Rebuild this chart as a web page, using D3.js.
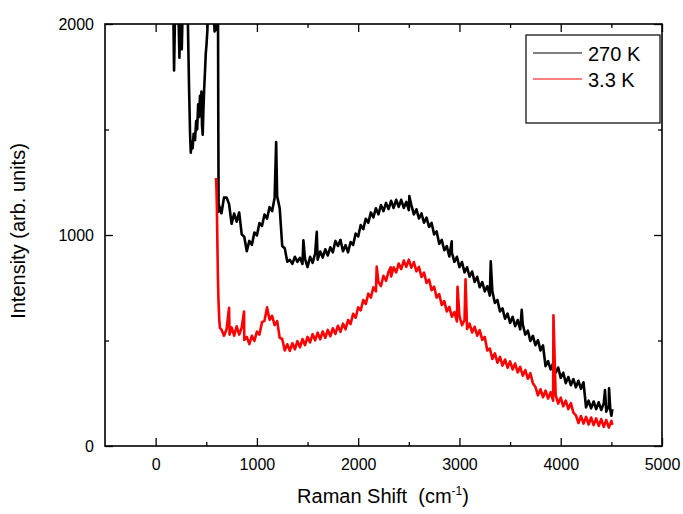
<!DOCTYPE html>
<html>
<head>
<meta charset="utf-8">
<script src="https://cdn.jsdelivr.net/npm/d3@7"></script>
<style>
  body { margin: 0; background: #fff; }
  text { font-family: Arial, "Liberation Sans", sans-serif; fill: #000; }
</style>
</head>
<body>
<svg id="chart" width="683" height="514"></svg>
<script>
// legend / series
const seriesNames = ["270 K", "3.3 K"];
const seriesColors = ["#000000", "#ff0000"];

// tick values
const xTicks = [0, 1000, 2000, 3000, 4000, 5000];
const xMinor = [500, 1500, 2500, 3500, 4500];
const yTicks = [0, 1000, 2000];
const yMinor = [500, 1500];

// [Raman shift (cm-1), intensity],
// alternating between the upper and lower edge of the noisy trace
const spectrum270 = [
  [150,2200],[172,2150],[182,1780],[195,2150],[210,2100],[222,2120],[235,1840],[245,2150],[258,1880],[271,2150],
  [300,2200],[313,2150],[330,1700],[340,1480],[347,1390],[355,1440],[365,1410],[375,1480],[389,1450],[400,1540],
  [410,1500],[420,1620],[430,1560],[438,1660],[445,1600],[452,1680],[458,1520],[465,1475],[472,1600],[480,1700],
  [488,1780],[495,1860],[502,1900],[511,1970],[525,2200],[560,2200],[582,1965],[588,2200],[592,1970],[600,2200],
  [615,2200],[619,1500],[622,1110],
  [625,1142],[650,1103],[675,1177],[700,1178],[725,1147],[750,1053],[775,1102],[800,1063],[825,1107],[850,1003],
  [875,992],[900,923],[925,972],[950,953],[975,1012],[1000,998],[1025,1057],[1050,1043],[1075,1097],[1100,1078],
  [1125,1132],[1150,1113],[1175,1177],[1190,1440],[1200,1183],[1225,1127],[1250,948],[1275,937],[1300,873],[1325,882],
  [1350,863],[1375,897],[1400,873],[1425,892],[1450,863],[1459,975],[1475,887],[1500,848],[1525,897],[1550,868],
  [1575,912],[1591,1015],[1600,883],[1625,922],[1650,893],[1675,932],[1700,903],[1725,942],[1750,918],[1775,972],
  [1800,948],[1825,977],[1850,923],[1875,952],[1900,918],[1925,967],[1950,953],[1975,1007],[2000,993],[2025,1047],
  [2050,1028],[2075,1077],[2100,1058],[2125,1107],[2150,1083],[2175,1127],[2200,1098],[2225,1142],[2250,1113],[2275,1152],
  [2300,1123],[2325,1162],[2350,1128],[2375,1167],[2400,1133],[2425,1167],[2450,1128],[2475,1157],[2500,1118],[2505,1185],
  [2525,1142],[2550,1098],[2575,1122],[2600,1078],[2625,1102],[2650,1058],[2675,1082],[2700,1038],[2725,1057],[2750,1003],
  [2775,1017],[2800,958],[2825,977],[2850,928],[2875,947],[2900,898],[2924,970],[2925,917],[2950,873],[2975,897],
  [3000,848],[3025,872],[3050,823],[3075,847],[3100,803],[3125,827],[3150,778],[3175,802],[3200,753],[3225,777],
  [3250,733],[3275,757],[3300,713],[3309,875],[3325,732],[3350,678],[3375,692],[3400,638],[3425,652],[3450,603],
  [3475,627],[3500,583],[3525,612],[3550,568],[3575,597],[3600,553],[3615,645],[3625,577],[3650,528],[3675,547],
  [3700,498],[3725,522],[3750,478],[3775,502],[3800,453],[3825,477],[3850,378],[3875,402],[3900,363],[3925,392],
  [3950,348],[3975,372],[4000,323],[4025,347],[4050,298],[4075,327],[4100,288],[4125,317],[4150,278],[4175,309],
  [4200,271],[4225,302],[4250,183],[4275,215],[4300,179],[4325,211],[4350,175],[4375,207],[4400,171],[4425,202],
  [4437,265],[4450,163],[4475,192],[4477,273],[4490,170],[4500,143],[4510,175]
];

const spectrum33 = [
  [596,1270],[600,1230],[605,1130],[610,950],[615,800],[620,700],[628,600],[635,560],
  [650,552],[675,523],[700,552],[725,655],[730,528],[750,562],[775,523],[800,567],[825,528],[850,562],
  [873,637],[875,503],[900,517],[925,483],[950,522],[975,498],[1000,542],[1025,528],[1050,587],[1075,593],
  [1100,657],[1125,598],[1150,617],[1175,573],[1200,592],[1225,513],[1250,507],[1275,453],[1300,482],[1325,451],
  [1350,487],[1375,458],[1400,497],[1425,468],[1450,507],[1475,478],[1500,517],[1525,491],[1550,530],[1575,501],
  [1600,537],[1625,506],[1650,543],[1675,513],[1700,550],[1725,520],[1750,558],[1775,531],[1800,570],[1825,541],
  [1850,580],[1875,553],[1900,597],[1925,578],[1950,627],[1975,608],[2000,657],[2025,643],[2050,692],[2075,673],
  [2100,722],[2125,703],[2150,752],[2175,733],[2183,850],[2200,777],[2225,758],[2250,807],[2275,783],[2300,827],
  [2321,847],[2325,803],[2350,847],[2375,823],[2400,865],[2425,838],[2450,879],[2475,849],[2500,883],[2525,845],
  [2550,872],[2575,828],[2600,849],[2625,801],[2650,822],[2675,773],[2700,789],[2725,738],[2750,755],[2775,703],
  [2800,720],[2825,668],[2850,687],[2875,638],[2900,659],[2925,613],[2950,635],[2975,590],[2981,755],[3000,615],
  [3025,573],[3050,597],[3060,790],[3075,555],[3100,580],[3125,538],[3150,565],[3175,523],[3200,549],[3225,503],
  [3250,517],[3275,453],[3300,462],[3325,413],[3350,439],[3375,395],[3400,422],[3425,381],[3450,410],[3475,371],
  [3500,401],[3525,363],[3550,391],[3575,349],[3600,375],[3625,333],[3650,360],[3675,319],[3700,345],[3725,298],
  [3750,280],[3775,240],[3800,269],[3825,231],[3850,262],[3875,225],[3900,255],[3925,215],[3928,620],[3950,242],
  [3975,201],[4000,229],[4025,188],[4050,215],[4075,175],[4100,203],[4125,158],[4150,145],[4175,109],[4200,142],
  [4225,106],[4250,138],[4275,102],[4300,135],[4325,99],[4350,131],[4375,95],[4400,127],[4425,91],[4450,123],
  [4475,87],[4500,119],[4510,100]
];

const plotLeft = 105, plotRight = 662, plotTop = 24, plotBottom = 446;

const svg = d3.select('#chart');

const x = d3.scaleLinear().domain([-500, 5000]).range([plotLeft, plotRight]);
const y = d3.scaleLinear().domain([0, 2000]).range([plotBottom, plotTop]);

// clip to plot area
svg.append('clipPath').attr('id', 'plot')
  .append('rect')
  .attr('x', plotLeft).attr('y', plotTop)
  .attr('width', plotRight - plotLeft).attr('height', plotBottom - plotTop);

// lines
const line = d3.line()
  .x(d => x(d[0]))
  .y(d => y(d[1]));

[spectrum270, spectrum33].forEach((s, i) => {
  svg.append('path')
    .attr('clip-path', 'url(#plot)')
    .attr('d', line(s))
    .attr('fill', 'none')
    .attr('stroke', seriesColors[i])
    .attr('stroke-width', 2.6)
    .attr('stroke-linejoin', 'round');
});

// axes, ticks pointing inward on all sides
const fmt = d3.format('d');

function addAxis(axis, tx, ty, labels) {
  const g = svg.append('g')
    .attr('transform', `translate(${tx},${ty})`)
    .call(axis);
  g.select('.domain').remove();
  g.selectAll('line').attr('stroke', '#000').attr('stroke-width', 1.3);
  g.selectAll('text')
    .style('font-size', '16px')
    .style('font-family', 'Arial, "Liberation Sans", sans-serif')
    .attr('fill', '#000');
  if (!labels) g.selectAll('text').remove();
  return g;
}

addAxis(d3.axisBottom(x).tickValues(xTicks).tickFormat(fmt).tickSize(-8).tickPadding(13), 0, plotBottom, true);
addAxis(d3.axisBottom(x).tickValues(xMinor).tickSize(-4), 0, plotBottom, false);
addAxis(d3.axisTop(x).tickValues(xTicks).tickSize(-8), 0, plotTop, false);
addAxis(d3.axisTop(x).tickValues(xMinor).tickSize(-4), 0, plotTop, false);
addAxis(d3.axisLeft(y).tickValues(yTicks).tickFormat(fmt).tickSize(-8).tickPadding(11), plotLeft, 0, true);
addAxis(d3.axisLeft(y).tickValues(yMinor).tickSize(-4), plotLeft, 0, false);
addAxis(d3.axisRight(y).tickValues(yTicks).tickSize(-8), plotRight, 0, false);
addAxis(d3.axisRight(y).tickValues(yMinor).tickSize(-4), plotRight, 0, false);

// frame
svg.append('rect')
  .attr('x', plotLeft).attr('y', plotTop)
  .attr('width', plotRight - plotLeft).attr('height', plotBottom - plotTop)
  .attr('fill', 'none')
  .attr('stroke', '#000')
  .attr('stroke-width', 1.6);

// axis titles
const xt = svg.append('text')
  .attr('x', 383).attr('y', 503)
  .attr('text-anchor', 'middle')
  .style('font-size', '20px');
xt.append('tspan').text('Raman Shift\u00a0 (cm');
xt.append('tspan').attr('dy', -8).style('font-size', '12px').text('-1');
xt.append('tspan').attr('dy', 8).text(')');

svg.append('text')
  .attr('transform', 'translate(25,231) rotate(-90)')
  .attr('text-anchor', 'middle')
  .style('font-size', '20px')
  .text('Intensity (arb. units)');

// legend
svg.append('rect')
  .attr('x', 526).attr('y', 35)
  .attr('width', 134).attr('height', 88)
  .attr('fill', '#fff')
  .attr('stroke', '#000')
  .attr('stroke-width', 1.2);

seriesNames.forEach((name, i) => {
  const ly = 53 + i * 26;
  svg.append('line')
    .attr('x1', 533).attr('x2', 582)
    .attr('y1', ly).attr('y2', ly)
    .attr('stroke', seriesColors[i])
    .attr('stroke-width', 1);
  svg.append('text')
    .attr('x', 588).attr('y', ly + 8)
    .style('font-size', '20px')
    .text(name);
});
</script>
</body>
</html>
